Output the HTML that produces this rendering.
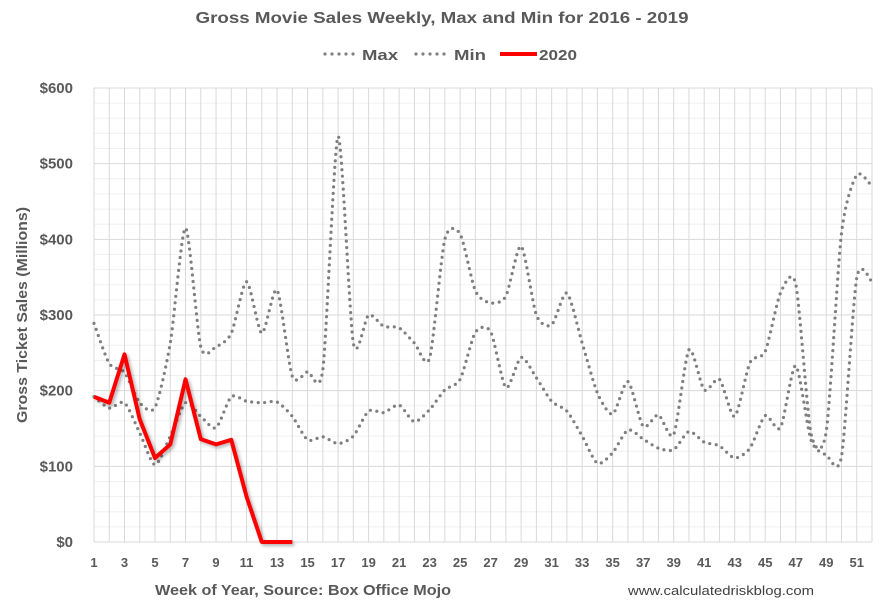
<!DOCTYPE html>
<html><head><meta charset="utf-8"><style>
html,body{margin:0;padding:0;background:#fff;}
svg{display:block;font-family:"Liberation Sans",Arial,sans-serif;}
</style></head><body>
<svg id="chart" width="884" height="607" viewBox="0 0 884 607" xmlns="http://www.w3.org/2000/svg">
<defs><filter id="sh" x="-10%" y="-10%" width="130%" height="130%"><feDropShadow dx="2" dy="2" stdDeviation="1.5" flood-color="#000" flood-opacity="0.3"/></filter></defs>
<text x="442" y="23" text-anchor="middle" font-size="16" font-weight="bold" fill="#595959" textLength="493" lengthAdjust="spacingAndGlyphs">Gross Movie Sales Weekly, Max and Min for 2016 - 2019</text>
<g>
 <g>
  <line x1="325" y1="54" x2="354" y2="54" stroke="#7f7f7f" stroke-width="3.2" stroke-linecap="round" stroke-dasharray="0 7"/>
  <text x="362" y="60" font-size="15" font-weight="bold" fill="#595959" textLength="36" lengthAdjust="spacingAndGlyphs">Max</text>
 </g>
 <g>
  <line x1="416" y1="54" x2="445" y2="54" stroke="#7f7f7f" stroke-width="3.2" stroke-linecap="round" stroke-dasharray="0 7"/>
  <text x="454" y="60" font-size="15" font-weight="bold" fill="#595959" textLength="32" lengthAdjust="spacingAndGlyphs">Min</text>
 </g>
 <g>
  <line x1="500" y1="54" x2="537" y2="54" stroke="#ff0000" stroke-width="4"/>
  <text x="539" y="60" font-size="15" font-weight="bold" fill="#595959" textLength="38" lengthAdjust="spacingAndGlyphs">2020</text>
 </g>
</g>
<g id="grid"></g>
<g id="yaxis"></g>
<g id="xaxis"></g>
<g id="series"></g>
<text transform="translate(27,315) rotate(-90)" text-anchor="middle" font-size="15" font-weight="bold" fill="#595959" textLength="216" lengthAdjust="spacingAndGlyphs">Gross Ticket Sales (Millions)</text>
<text x="155" y="595" font-size="15" font-weight="bold" fill="#595959" textLength="296" lengthAdjust="spacingAndGlyphs">Week of Year, Source: Box Office Mojo</text>
<text x="628" y="595" font-size="13" fill="#404040" textLength="186" lengthAdjust="spacingAndGlyphs">www.calculatedriskblog.com</text>
</svg>
<script>
const weeks = Array.from({length:52},(_,i)=>i+1);
const maxValues = [289,236,224,184,178,263,415,258,258,276,344,276,333,219,225,228,536,263,300,285,283,263,243,400,407,332,316,325,391,300,287,329,263,197,169,212,153,168,142,254,201,215,166,237,252,329,341,144,146,408,485,470];
const minValues = [192,177,184,144,102,140,184,166,151,192,186,184,185,166,135,139,130,140,173,171,181,159,175,201,215,277,278,204,244,217,186,173,140,104,118,148,136,124,122,146,132,127,111,124,167,151,233,135,115,113,349,344];
const y2020Values = [192,184,248,162,111,129,215,136,129,135,60,0,0,0];
const yTicks = [0,100,200,300,400,500,600];
const yTickLabels = ['$0','$100','$200','$300','$400','$500','$600'];
const xTickLabels = weeks.filter(w=>w%2===1);

const L=94,R=872,T=88,B=542;
const xs = w => L + (w-1)*(R-L)/51;
const ys = v => B - v*(B-T)/600;
const NS='http://www.w3.org/2000/svg';
function mk(tag,attrs,parent){const e=document.createElementNS(NS,tag);for(const k in attrs)e.setAttribute(k,attrs[k]);parent.appendChild(e);return e;}
const grid=document.getElementById('grid'),yax=document.getElementById('yaxis'),xax=document.getElementById('xaxis'),ser=document.getElementById('series');
for(let v=0;v<=600;v+=20){
  const l=mk('line',{x1:L,x2:R,y1:ys(v),y2:ys(v),stroke:v%100===0?'#d9d9d9':'#f0f0f0','stroke-width':1},grid);
  
  
}
weeks.forEach(w=>{
  const l=mk('line',{x1:xs(w),x2:xs(w),y1:T,y2:B,stroke:'#d9d9d9','stroke-width':1},grid);
  
  
});
yTicks.forEach((v,i)=>{
  const t=mk('text',{x:73,y:ys(v)+5,'text-anchor':'end','font-size':15,'font-weight':'bold',fill:'#595959'},yax);
  t.textContent=yTickLabels[i];
  
  
});
xTickLabels.forEach(w=>{
  const t=mk('text',{x:xs(w),y:567,'text-anchor':'middle','font-size':13,'font-weight':'bold',fill:'#595959'},xax);
  t.textContent=String(w);
  
  
});
function smooth(pts){
  let d='M'+pts[0][0]+','+pts[0][1];
  const k=8;
  for(let i=0;i<pts.length-1;i++){
    const p0=pts[i-1]||pts[i],p1=pts[i],p2=pts[i+1],p3=pts[i+2]||p2;
    const c1x=p1[0]+(p2[0]-p0[0])/k,c1y=p1[1]+(p2[1]-p0[1])/k;
    const c2x=p2[0]-(p3[0]-p1[0])/k,c2y=p2[1]-(p3[1]-p1[1])/k;
    d+=' C'+c1x+','+c1y+' '+c2x+','+c2y+' '+p2[0]+','+p2[1];
  }
  return d;
}
const maxPath=mk('path',{d:smooth(maxValues.map((v,i)=>[xs(weeks[i]),ys(v)])),fill:'none',stroke:'#7f7f7f','stroke-width':3.2,'stroke-linecap':'round','stroke-dasharray':'0 6.5'},ser);


const minPath=mk('path',{d:smooth(minValues.map((v,i)=>[xs(weeks[i]),ys(v)])),fill:'none',stroke:'#7f7f7f','stroke-width':3.2,'stroke-linecap':'round','stroke-dasharray':'0 6.5'},ser);


const redPath=mk('polyline',{points:y2020Values.map((v,i)=>xs(weeks[i])+','+ys(v)).join(' '),fill:'none',stroke:'#ff0000','stroke-width':4,'stroke-linejoin':'round',filter:'url(#sh)'},ser);


</script>
</body></html>
